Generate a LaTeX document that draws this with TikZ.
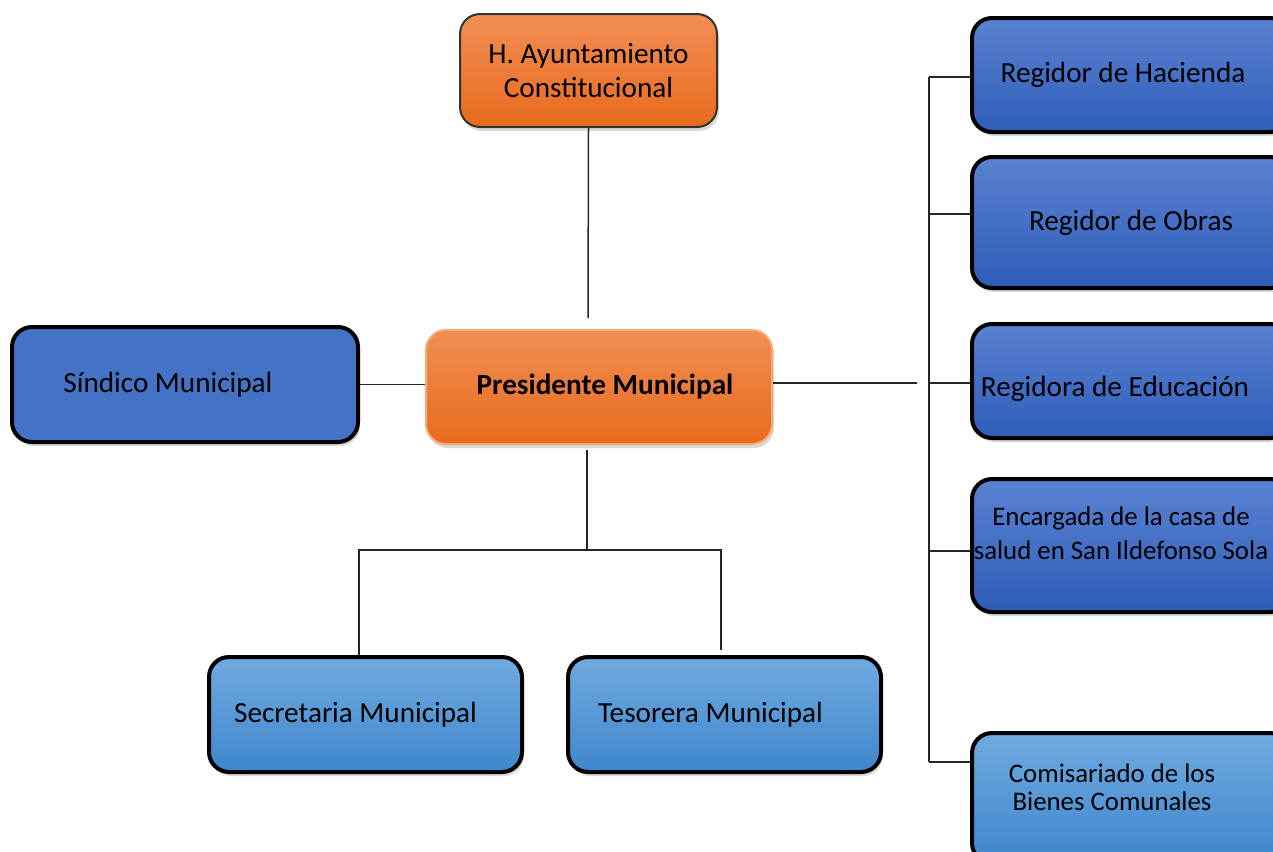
\documentclass[tikz,border=0pt]{standalone}
\usepackage{fontspec}
\setmainfont{Carlito}
\usetikzlibrary{shadows}
\definecolor{orgtop}{RGB}{241,142,84}
\definecolor{orgbot}{RGB}{232,106,28}
\definecolor{orgline}{RGB}{245,170,120}
\definecolor{bluetop}{RGB}{90,130,210}
\definecolor{bluebot}{RGB}{46,94,184}
\definecolor{blueflat}{RGB}{68,114,196}
\definecolor{ltop}{RGB}{112,170,224}
\definecolor{lbot}{RGB}{62,134,204}
\begin{document}
\begin{tikzpicture}[x=0.5pt,y=-0.5pt,
    box/.style={rounded corners=10pt,draw=black,line width=2pt,align=center,
      inner sep=0pt,font=\fontsize{14.6}{17}\selectfont,
      drop shadow={opacity=0.3,shadow xshift=1pt,shadow yshift=-2pt}},
    orgbox/.style={box,top color=orgtop,bottom color=orgbot},
    bluebox/.style={box,top color=bluetop,bottom color=bluebot},
    ltbox/.style={box,top color=ltop,bottom color=lbot},
    leftgap/.style={execute at end node={\hspace*{#1}}},
    small/.style={font=\fontsize{13.4}{17}\selectfont},
    wire/.style={draw=black!85,line width=0.75pt}]
  \useasboundingbox (0,0) rectangle (1273,851);
  % top and centre
  \node[orgbox,draw=black!80,line width=1pt,minimum width=128.5pt,minimum height=56.5pt]
    (ayun) at (588.5,70.5) {H. Ayuntamiento\\Constitucional};
  \node[orgbox,draw=orgline,line width=1pt,minimum width=173pt,minimum height=57pt,
    font=\fontsize{14.6}{17}\selectfont\bfseries,leftgap=-6pt] (pres) at (599,387) {Presidente Municipal};
  \node[box,fill=blueflat,minimum width=173pt,minimum height=57.5pt,leftgap=17pt]
    (sind) at (185,384.5) {Síndico Municipal};
  % right column
  \node[bluebox,minimum width=159pt,minimum height=57pt,leftgap=8pt] (hac) at (1131,75) {Regidor de Hacienda};
  \node[bluebox,minimum width=159pt,minimum height=65.5pt] (obr) at (1131,222.5) {Regidor de Obras};
  \node[bluebox,minimum width=159pt,minimum height=57pt,leftgap=16pt] (edu) at (1131,381)
    {\raisebox{-4pt}[\height][\depth]{Regidora de Educación}};
  \node[bluebox,small,minimum width=159pt,minimum height=66.5pt] (sal) at (1131,545.5)
    {\makebox[140pt]{\begin{tabular}{@{}c@{\hspace{10pt}}}Encargada de la casa de\\salud en San Ildefonso Sola\\[10pt]\end{tabular}}};
  \node[ltbox,small,minimum width=159pt,minimum height=65pt] (com) at (1131,798)
    {\begin{tabular}{@{}c@{\hspace{19pt}}}Comisariado de los\\[-3pt]Bienes Comunales\\[8pt]\end{tabular}};
  % bottom row
  \node[ltbox,minimum width=156.5pt,minimum height=57.5pt,leftgap=10pt] (sec) at (365.5,714.5) {Secretaria Municipal};
  \node[ltbox,minimum width=156.5pt,minimum height=57.5pt,leftgap=14pt] (tes) at (724.5,714.5) {Tesorera Municipal};

  \coordinate (jt) at (588,318);
  \draw[wire] (ayun.south) -- (jt);
  \draw[wire] (sind.east) -- (sind.east -| pres.west);
  \coordinate (jr) at (917,383);
  \draw[wire] (jr -| pres.east) -- (jr);
  \coordinate (bt) at (929,77);
  \coordinate (bb) at (929,762);
  \draw[wire] (bt) -- (bb);
  \foreach \b/\s in {hac/-1,obr/4.25,edu/-1,sal/-2.75,com/18} {
    \path ([yshift=\s pt]\b.west) coordinate (\b-in);
    \draw[wire] (\b-in -| bt) -- (\b-in);
  }
  \coordinate (jb) at (587,550);
  \coordinate (jl) at (359,550);
  \coordinate (jrr) at (721,550);
  \draw[wire,shorten <=2.5pt] (jb |- pres.south) -- (jb);
  \draw[wire] (jl |- sec.north) -- (jl) -- (jrr) -- ([yshift=2.5pt]jrr |- tes.north);
\end{tikzpicture}
\end{document}
